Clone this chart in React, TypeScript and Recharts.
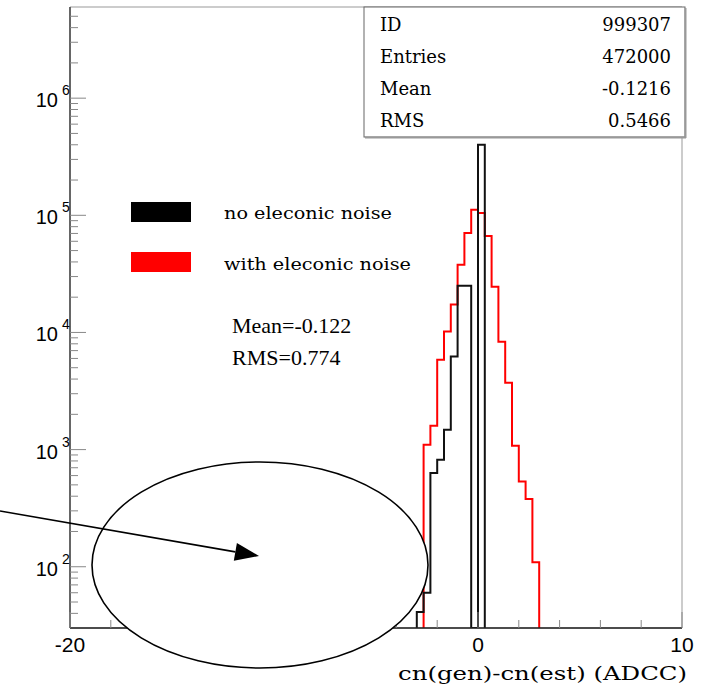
import React from 'react';
import { ComposedChart, Line, XAxis, YAxis, ReferenceArea } from 'recharts';

// ---- data ----
const X_MIN = -20;
const X_MAX = 10;
const Y_MIN = 30;
const Y_MAX = 6e6;

// histogram "with electronic noise" (red): bin edges (width 1/3) and counts
const redEdges = [-8 / 3, -7 / 3, -2, -5 / 3, -4 / 3, -1, -2 / 3, -1 / 3, 0, 1 / 3, 2 / 3, 1, 4 / 3, 5 / 3, 2, 7 / 3, 8 / 3, 3];
const redCounts = [1100, 1600, 5850, 10200, 17300, 37900, 70600, 111600, 104600, 66600, 24600, 8330, 3720, 1080, 535, 378, 109];

// histogram "no electronic noise" (black)
const blackEdges = [-3, -8 / 3, -7 / 3, -2, -5 / 3, -4 / 3, -1, -2 / 3, -1 / 3, 0, 1 / 3];
const blackCounts = [41, 60, 630, 818, 1475, 6240, 25000, 25100, 0, 401000];

const xTicks = [-20, -18, -16, -14, -12, -10, -8, -6, -4, -2, 0, 2, 4, 6, 8, 10];
const xLabeledTicks = [-20, -10, 0, 10];
const yMajorTicks = [100, 1000, 10000, 100000, 1000000];
const yMinorTicks = [
  40, 50, 60, 70, 80, 90,
  200, 300, 400, 500, 600, 700, 800, 900,
  2000, 3000, 4000, 5000, 6000, 7000, 8000, 9000,
  20000, 30000, 40000, 50000, 60000, 70000, 80000, 90000,
  200000, 300000, 400000, 500000, 600000, 700000, 800000, 900000,
  2000000, 3000000, 4000000, 5000000,
];

const statsLabels = ['ID', 'Entries', 'Mean', 'RMS'];
const statsValues = ['999307', '472000', '-0.1216', '0.5466'];
const legendLabels = ['no eleconic noise', 'with eleconic noise'];
const legendColors = ['#000000', '#ff0000'];
const legendWidths = [168, 187];
const noteLines = ['Mean=-0.122', 'RMS=0.774'];
const xTitle = 'cn(gen)-cn(est) (ADCC)';

// ---- layout ----
const W = 704;
const H = 690;
const PLOT_LEFT = 70;
const PLOT_TOP = 7;
const PLOT_RIGHT = 682;
const PLOT_BOTTOM = 628;

const stepPoints = (edges: number[], counts: number[]) => {
  const pts = [{ x: edges[0], y: Y_MIN }];
  counts.forEach((c, i) => pts.push({ x: edges[i], y: Math.max(c, Y_MIN) }));
  pts.push({ x: edges[edges.length - 1], y: Y_MIN });
  return pts;
};

const redData = stepPoints(redEdges, redCounts);
const blackData = stepPoints(blackEdges, blackCounts);

const YTick = (props: any) => {
  const { y, payload } = props;
  const v = payload.value;
  const major = yMajorTicks.includes(v);
  const exp = Math.round(Math.log10(v));
  return (
    <g>
      <line x1={PLOT_LEFT} x2={PLOT_LEFT + (major ? 16 : 8)} y1={y} y2={y} stroke="#888" strokeWidth={1} />
      {major && (
        <g>
          <text x={PLOT_LEFT - 12} y={y + 9} textAnchor="end" fontFamily="Liberation Sans" fontSize={20} fill="#000">10</text>
          <text x={PLOT_LEFT - 8} y={y - 3} textAnchor="start" fontFamily="Liberation Sans" fontSize={14} fill="#000">{exp}</text>
        </g>
      )}
    </g>
  );
};

const XTick = (props: any) => {
  const { x, payload } = props;
  const v = payload.value;
  const major = xLabeledTicks.includes(v);
  return (
    <g>
      <line x1={x} x2={x} y1={PLOT_BOTTOM} y2={PLOT_BOTTOM - (major ? 16 : 8)} stroke="#888" strokeWidth={1} />
      {major && (
        <text x={x} y={PLOT_BOTTOM + 24} textAnchor="middle" fontFamily="Liberation Sans" fontSize={21} fill="#000">
          {v}
        </text>
      )}
    </g>
  );
};

const Overlay = () => {
  // arrow geometry
  const x0 = 0, y0 = 511, tx = 259, ty = 556;
  const dx = tx - x0, dy = ty - y0;
  const len = Math.sqrt(dx * dx + dy * dy);
  const ux = dx / len, uy = dy / len;
  const hl = 24, hw = 9;
  const bx = tx - ux * hl, by = ty - uy * hl;
  const p1 = `${tx},${ty}`;
  const p2 = `${bx - uy * hw},${by + ux * hw}`;
  const p3 = `${bx + uy * hw},${by - ux * hw}`;
  return (
    <svg width={W} height={H} style={{ position: 'absolute', left: 0, top: 0, pointerEvents: 'none' }}>
      {/* stats box */}
      <rect x={364} y={7} width={321} height={130} fill="#fff" stroke="#666" strokeWidth={1} />
      <line x1={685.5} y1={8} x2={685.5} y2={138} stroke="#999" strokeWidth={2} />
      <line x1={365} y1={137.5} x2={686} y2={137.5} stroke="#999" strokeWidth={2} />
      {statsLabels.map((l, i) => (
        <text key={l} x={380} y={31 + i * 32} fontFamily="DejaVu Serif" fontSize={18} fill="#000">{l}</text>
      ))}
      {statsValues.map((v, i) => (
        <text key={v} x={671} y={31 + i * 32} textAnchor="end" fontFamily="DejaVu Serif" fontSize={18} fill="#000">{v}</text>
      ))}
      {/* legend */}
      {legendLabels.map((l, i) => (
        <g key={l}>
          <rect x={131} y={202 + i * 50} width={60} height={20} fill={legendColors[i]} />
          <text x={224} y={219 + i * 51} fontFamily="DejaVu Serif" fontSize={17} fill="#000" textLength={legendWidths[i]} lengthAdjust="spacingAndGlyphs">{l}</text>
        </g>
      ))}
      {noteLines.map((t, i) => (
        <text key={t} x={232} y={333 + i * 32} fontFamily="Liberation Serif" fontSize={22} fill="#000">{t}</text>
      ))}
      {/* axis title */}
      <text x={398} y={680} fontFamily="DejaVu Serif" fontSize={19} fill="#000" textLength={289} lengthAdjust="spacingAndGlyphs">{xTitle}</text>
      {/* ellipse & arrow */}
      <ellipse cx={260} cy={565} rx={168} ry={103} fill="#fff" stroke="#000" strokeWidth={1.6} />
      <line x1={x0} y1={y0} x2={bx} y2={by} stroke="#000" strokeWidth={1.6} />
      <polygon points={`${p1} ${p2} ${p3}`} fill="#000" />
    </svg>
  );
};

export default function App() {
  return (
    <div style={{ position: 'absolute', left: 0, top: 0, width: W, height: H, background: '#fff' }}>
      <ComposedChart
        width={W}
        height={H}
        margin={{ top: PLOT_TOP, right: W - PLOT_RIGHT, bottom: 0, left: 0 }}
      >
        <XAxis
          dataKey="x"
          type="number"
          domain={[X_MIN, X_MAX]}
          ticks={xTicks}
          interval={0}
          allowDataOverflow
          height={H - PLOT_BOTTOM}
          tickLine={false}
          tick={<XTick />}
          axisLine={{ stroke: '#222', strokeWidth: 1.5 }}
        />
        <YAxis
          dataKey="y"
          type="number"
          scale="log"
          domain={[Y_MIN, Y_MAX]}
          ticks={[...yMajorTicks, ...yMinorTicks]}
          interval={0}
          allowDataOverflow
          width={PLOT_LEFT}
          tickLine={false}
          tick={<YTick />}
          axisLine={{ stroke: '#444', strokeWidth: 1.5 }}
        />
        <ReferenceArea x1={X_MIN} x2={X_MAX} y1={Y_MIN} y2={Y_MAX} fill="none" stroke="#999" strokeWidth={1} />
        <Line data={redData} dataKey="y" type="stepAfter" stroke="#ff0000" strokeWidth={2} dot={false} isAnimationActive={false} />
        <Line data={blackData} dataKey="y" type="stepAfter" stroke="#111" strokeWidth={2} dot={false} isAnimationActive={false} />
      </ComposedChart>
      <Overlay />
    </div>
  );
}
